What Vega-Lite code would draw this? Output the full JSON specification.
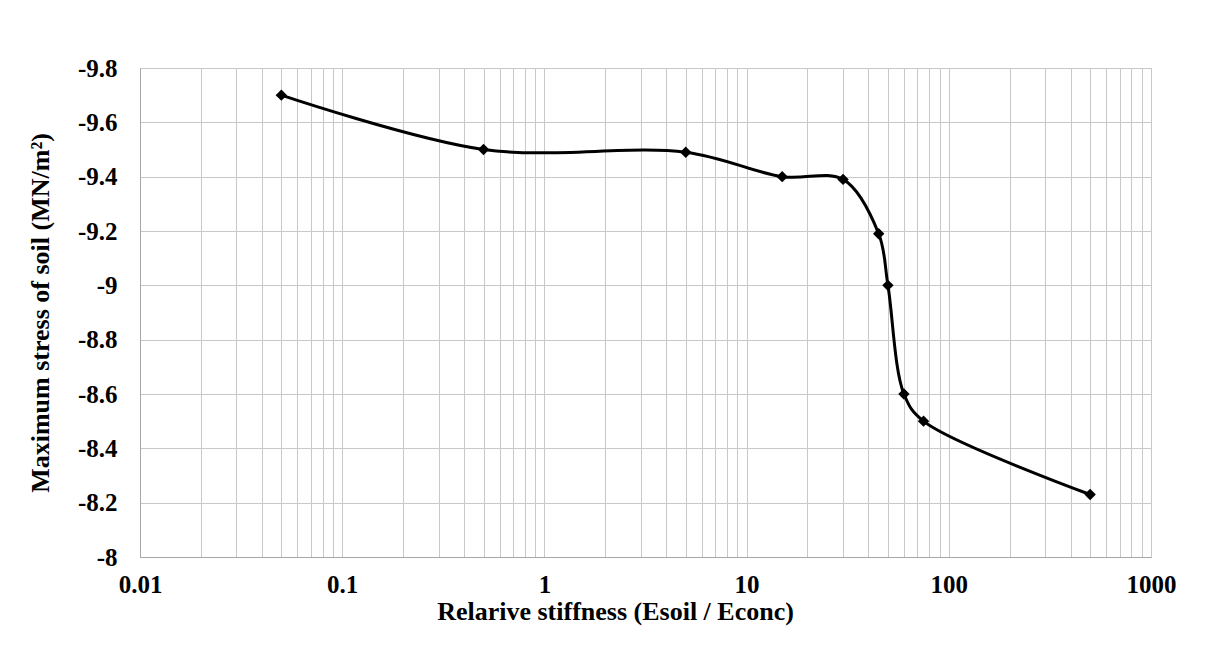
{
  "$schema": "https://vega.github.io/schema/vega-lite/v6.json",
  "width": 1011,
  "height": 489,
  "autosize": {"type": "none"},
  "padding": {"left": 140, "top": 68, "right": 60, "bottom": 89},
  "background": "white",
  "config": {
    "view": {"stroke": "#bfbfbf", "strokeWidth": 1},
    "axis": {
      "labelFont": "Liberation Serif",
      "titleFont": "Liberation Serif",
      "labelFontWeight": "bold",
      "titleFontWeight": "bold",
      "labelFontSize": 25,
      "titleFontSize": 26,
      "labelColor": "black",
      "titleColor": "black",
      "gridColor": "#c8c8c8",
      "gridOpacity": 1,
      "gridWidth": 1,
      "domainColor": "#a6a6a6",
      "ticks": false
    }
  },
  "data": {
    "values": [
      {"stiffness": 0.05, "stress": -9.7},
      {"stiffness": 0.5, "stress": -9.5},
      {"stiffness": 5, "stress": -9.49},
      {"stiffness": 15, "stress": -9.4},
      {"stiffness": 30, "stress": -9.39},
      {"stiffness": 45, "stress": -9.19},
      {"stiffness": 50, "stress": -9.0},
      {"stiffness": 60, "stress": -8.6},
      {"stiffness": 75, "stress": -8.5},
      {"stiffness": 500, "stress": -8.23}
    ]
  },
  "encoding": {
    "x": {
      "field": "stiffness",
      "type": "quantitative",
      "scale": {"type": "log", "domain": [0.01, 1000], "nice": false},
      "axis": {
        "values": [0.01, 0.02, 0.03, 0.04, 0.05, 0.06, 0.07, 0.08, 0.09, 0.1, 0.2, 0.3, 0.4, 0.5, 0.6, 0.7, 0.8, 0.9, 1, 2, 3, 4, 5, 6, 7, 8, 9, 10, 20, 30, 40, 50, 60, 70, 80, 90, 100, 200, 300, 400, 500, 600, 700, 800, 900, 1000],
        "labelExpr": "indexof(['0.01','0.1','1','10','100','1000'], '' + datum.value) >= 0 ? '' + datum.value : ''",
        "labelOverlap": false,
        "labelFlush": false,
        "labelPadding": 15,
        "title": "Relarive stiffness (Esoil / Econc)",
        "titlePadding": 1,
        "titleX": 475
      }
    },
    "y": {
      "field": "stress",
      "type": "quantitative",
      "scale": {"domain": [-9.8, -8], "reverse": true, "nice": false, "zero": false},
      "axis": {
        "values": [-9.8, -9.6, -9.4, -9.2, -9, -8.8, -8.6, -8.4, -8.2, -8],
        "labelExpr": "'' + datum.value",
        "labelPadding": 23,
        "labelFlush": false,
        "labelOverlap": false,
        "title": "Maximum stress of soil (MN/m²)",
        "titlePadding": 24
      }
    }
  },
  "layer": [
    {
      "mark": {"type": "line", "interpolate": "catmull-rom", "color": "black", "strokeWidth": 3}
    },
    {
      "mark": {"type": "point", "shape": "diamond", "filled": true, "color": "black", "size": 130, "opacity": 1}
    }
  ]
}
